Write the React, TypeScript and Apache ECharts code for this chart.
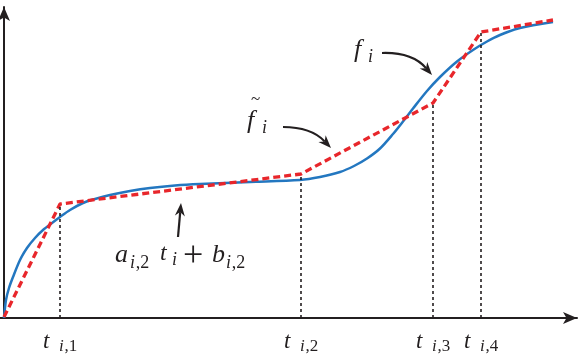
import React, { useEffect, useRef } from 'react';
import * as echarts from 'echarts';

// f_i : smooth curve (t, value)
const blueT = [0, 2, 5, 9, 16, 23, 31, 39, 48, 56, 66, 79, 91, 106, 126, 146, 171, 196, 246, 296, 316, 336, 350, 363, 376, 389, 399, 409, 423, 436, 453, 469, 483, 496, 516, 549];
const blueV = [0, 18, 30, 41, 58, 70, 80, 88, 95, 101, 108, 115, 119, 123, 127, 130, 132.5, 134, 136, 138, 141, 146, 152, 159.5, 169.5, 184, 196.5, 209.5, 227, 241, 256.5, 268, 276.5, 283, 290, 296];

// f~_i : piecewise linear approximation, knots
const knotT = [0, 56, 297, 429, 477, 549];
const knotV = [1, 114, 144, 215, 286, 298];

// knots with a dotted guide line and a tick label
const tickKnots = [1, 2, 3, 4];
const tickSubs = ['1', '2', '3', '4'];

const INK = '#231f20';
const RED = '#e8262b';
const BLUE = '#2377c0';
const FAMILY = 'Liberation Serif';

function fontOf(size: number, italic: boolean) {
  return `${italic ? 'italic' : 'normal'} normal ${size}px ${FAMILY}`;
}

function txt(x: number, base: number, s: string, size: number, italic = true) {
  return {
    type: 'text', x, y: base - 0.33 * size, z: 100,
    style: {
      text: s, font: fontOf(size, italic), fontFamily: FAMILY, fontSize: size,
      fontStyle: italic ? 'italic' : 'normal', fill: INK, verticalAlign: 'middle', align: 'left',
    },
  };
}

function subIdx(x: number, base: number, idx: string, size: number) {
  const out: any[] = [txt(x, base, 'i', size, true)];
  if (idx) out.push(txt(x + size * 0.32, base, ',' + idx, size, false));
  return out;
}

function arrowHead(tx: number, ty: number, fx: number, fy: number, L = 13, W = 5) {
  const dx = tx - fx, dy = ty - fy;
  const len = Math.hypot(dx, dy);
  const ux = dx / len, uy = dy / len;
  const nx = -uy, ny = ux;
  const bx = tx - ux * L, by = ty - uy * L;
  const mx = tx - ux * L * 0.7, my = ty - uy * L * 0.7;
  return {
    poly: {
      type: 'polygon', z: 100,
      shape: { points: [[tx, ty], [bx + nx * W, by + ny * W], [mx, my], [bx - nx * W, by - ny * W]] },
      style: { fill: INK },
    },
    notch: [mx, my],
  };
}

function curvedArrow(sx: number, sy: number, cx: number, cy: number, tx: number, ty: number) {
  const h = arrowHead(tx, ty, cx, cy);
  return [
    {
      type: 'bezierCurve', z: 100,
      shape: { x1: sx, y1: sy, cpx1: cx, cpy1: cy, x2: h.notch[0], y2: h.notch[1] },
      style: { stroke: INK, lineWidth: 2.2, fill: 'none' },
    },
    h.poly,
  ];
}

export default function App() {
  const ref = useRef<HTMLDivElement>(null);
  useEffect(() => {
    const chart = echarts.init(ref.current!, null, { renderer: 'svg' });
    const axisLine = (size: number[]) => ({
      show: true,
      onZero: true,
      symbol: ['none', 'arrow'],
      symbolSize: size,
      lineStyle: { color: INK, width: 2 },
    });
    chart.setOption({
      animation: false,
      textStyle: { fontFamily: FAMILY },
      grid: { left: 0, right: 9, top: 7, bottom: 38 },
      xAxis: {
        type: 'value', min: -4, max: 573,
        axisLine: axisLine([9, 14]), axisTick: { show: false }, axisLabel: { show: false }, splitLine: { show: false },
      },
      yAxis: {
        type: 'value', min: 0, max: 311,
        axisLine: axisLine([9, 14]), axisTick: { show: false }, axisLabel: { show: false }, splitLine: { show: false },
      },
      series: [
        {
          type: 'line', smooth: 0.3, symbol: 'none', clip: false,
          data: blueT.map((t, i) => [t, blueV[i]]),
          lineStyle: { color: BLUE, width: 2.5 },
          z: 3,
        },
        {
          type: 'line', symbol: 'none', clip: false,
          data: knotT.map((t, i) => [t, knotV[i]]),
          lineStyle: { color: RED, width: 3.3, type: [7, 4] },
          z: 4,
          markLine: {
            silent: true, symbol: ['none', 'none'], label: { show: false },
            lineStyle: { color: INK, width: 1.6, type: [3, 3] },
            data: tickKnots.map((k) => [{ coord: [knotT[k], 0] }, { coord: [knotT[k], knotV[k]] }]),
          },
        },
      ],
    });

    const g: any[] = [];
    tickKnots.forEach((k, i) => {
      const p = chart.convertToPixel({ gridIndex: 0 }, [knotT[k], 0]) as number[];
      const x = p[0];
      g.push(txt(x - 17, 348, 't', 23));
      g.push(...subIdx(x - 1, 351, tickSubs[i], 17));
    });

    // f_i label + arrow
    g.push(txt(354, 57, 'f', 26));
    g.push(...subIdx(368, 62, '', 18));
    g.push(...curvedArrow(382, 53, 412, 52, 432, 75));

    // f~_i label + arrow
    g.push(txt(247, 128, 'f', 26));
    g.push(txt(251, 104, '~', 17, false));
    g.push(...subIdx(262, 133, '', 18));
    g.push(...curvedArrow(283, 127, 311, 127, 331, 148));

    // a_{i,2} t_i + b_{i,2}
    g.push(txt(115, 262, 'a', 26));
    g.push(...subIdx(130, 268, '2', 18));
    g.push(txt(160, 260, 't', 24));
    g.push(...subIdx(172, 265, '', 18));
    g.push(txt(183, 266, '+', 36, false));
    g.push(txt(212, 262, 'b', 26));
    g.push(...subIdx(226, 268, '2', 18));
    const h = arrowHead(181, 203, 178, 237);
    g.push({
      type: 'line', z: 100,
      shape: { x1: 178, y1: 237, x2: h.notch[0], y2: h.notch[1] },
      style: { stroke: INK, lineWidth: 2.2 },
    });
    g.push(h.poly);

    chart.setOption({ graphic: g });
    return () => chart.dispose();
  }, []);
  return <div ref={ref} style={{ position: 'fixed', left: 0, top: 0, width: 586, height: 356 }} />;
}
